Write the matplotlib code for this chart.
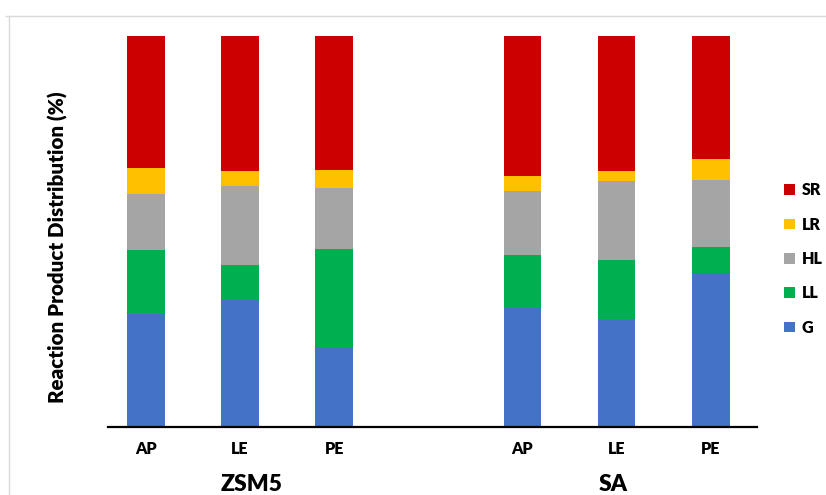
import matplotlib
matplotlib.use("Agg")
import matplotlib.pyplot as plt
import matplotlib.transforms as mtransforms
from matplotlib.lines import Line2D
from matplotlib.patches import Patch

# data (percent of products)
samples = ["AP", "LE", "PE", "AP", "LE", "PE"]
catalysts = ["ZSM5", "SA"]
positions = [0, 1, 2, 4, 5, 6]   # an empty slot between the two catalysts
G = [28.8, 32.4, 20.5, 30.4, 27.5, 39.3]
LL = [16.3, 9.0, 25.1, 13.6, 15.1, 6.8]
HL = [14.5, 20.3, 15.6, 16.2, 20.4, 17.1]
LR = [6.6, 3.8, 4.4, 4.0, 2.4, 5.4]
SR = [33.8, 34.5, 34.4, 35.8, 34.6, 31.4]

series = [("G", G, "#4472C4"), ("LL", LL, "#00B050"), ("HL", HL, "#A5A5A5"),
          ("LR", LR, "#FFC000"), ("SR", SR, "#CC0000")]

plt.rcParams['font.family'] = ['Lato', 'DejaVu Sans']
plt.rcParams['font.weight'] = 'bold'

fig = plt.figure(figsize=(8.26, 4.95), dpi=100)
ax = fig.add_axes([108 / 826, 68.3 / 495, (757 - 108) / 826, 390.7 / 495])

bottom = [0] * len(positions)
handles = []
for name, vals, color in series:
    ax.bar(positions, vals, width=0.40, bottom=bottom, color=color, linewidth=0)
    bottom = [b + v for b, v in zip(bottom, vals)]
    handles.append(Patch(facecolor=color, label=name))

ax.set_xlim(-0.4, 6.49)
ax.set_ylim(0, 100)
ax.set_xticks(positions)
ax.set_xticklabels(samples, fontsize=11.5, fontweight='heavy')
ax.tick_params(axis='x', length=0, pad=10)
ax.set_yticks([])
for s in ['left', 'top', 'right']:
    ax.spines[s].set_visible(False)
ax.spines['bottom'].set_linewidth(1.6)
ax.spines['bottom'].set_color('black')

# catalyst labels under the groups
grp_x = [1.12, 4.96]
trans = mtransforms.blended_transform_factory(ax.transData, fig.transFigure)
for x, name in zip(grp_x, catalysts):
    ax.text(x, 0.022, name, transform=trans,
            ha='center', va='center', fontsize=16.5, fontweight='heavy')

fig.text(58 / 826, 1 - 247 / 495, "Reaction Product Distribution (%)", rotation=90,
         ha='center', va='center', fontsize=14.8, fontweight='heavy')

leg = fig.legend(handles=handles[::-1], loc='center left',
                 bbox_to_anchor=(770 / 826, 1 - 259 / 495), frameon=False,
                 fontsize=11.5, handlelength=0.65, handleheight=0.65,
                 handletextpad=0.45, labelspacing=1.15)
for t in leg.get_texts():
    t.set_fontweight('heavy')

# light chart border seen on the top and left
fig.add_artist(Line2D([9 / 826, 9 / 826], [0, 1 - 16 / 495], transform=fig.transFigure,
                      color='#d9d9d9', linewidth=1))
fig.add_artist(Line2D([6 / 826, 1], [1 - 16 / 495, 1 - 16 / 495], transform=fig.transFigure,
                      color='#d9d9d9', linewidth=1))

fig.savefig("out.png", dpi=100)
